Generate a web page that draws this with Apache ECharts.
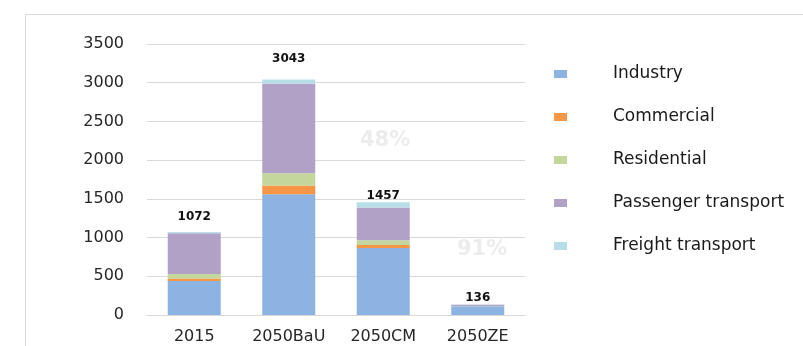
<!DOCTYPE html>
<html>
<head>
<meta charset="utf-8">
<script src="https://cdn.jsdelivr.net/npm/echarts@6/dist/echarts.min.js"></script>
<style>
  html, body { margin: 0; padding: 0; background: #fff; }
  #chart { width: 803px; height: 346px; }
</style>
</head>
<body>
<div id="chart"></div>
<script>
// data
var scenarios = ['2015', '2050BaU', '2050CM', '2050ZE'];
var industry = [440, 1560, 865, 112];
var commercial = [30, 112, 40, 2];
var residential = [60, 160, 62, 2];
var passenger = [525, 1155, 420, 15];
var freight = [17, 56, 70, 5];
var totals = [1072, 3043, 1457, 136];
var yTicks = [0, 500, 1000, 1500, 2000, 2500, 3000, 3500];

// how far each total sits above its bar
var labelLift = [9, 15, 0, 1];

var names = ['Industry', 'Commercial', 'Residential', 'Passenger transport', 'Freight transport'];
var colors = ['#8db3e2', '#f79646', '#c3d69b', '#b2a1c7', '#b7dee8'];
var values = [industry, commercial, residential, passenger, freight];

var series = names.map(function (name, i) {
    var s = {
        name: name,
        type: 'bar',
        stack: 'total',
        barWidth: 53,
        itemStyle: { color: colors[i] },
        emphasis: { disabled: true },
        data: values[i]
    };
    if (i === names.length - 1) {
        s.data = values[i].map(function (v, k) {
            return {
                value: v,
                label: {
                    show: true,
                    position: 'top',
                    distance: labelLift[k],
                    formatter: function () { return totals[k]; },
                    fontFamily: 'DejaVu Sans',
                    fontWeight: 'bold',
                    fontSize: 12,
                    color: '#111'
                }
            };
        });
    }
    return s;
});

var chart = echarts.init(document.getElementById('chart'), null, { renderer: 'canvas' });

chart.setOption({
    animation: false,
    backgroundColor: '#fff',
    graphic: [
        {
            type: 'rect',
            left: 23, top: 12,
            shape: { width: 800, height: 350 },
            style: { fill: 'none', stroke: '#d9d9d9', lineWidth: 1 },
            z: 0
        },
        {
            type: 'text',
            left: 360, top: 130,
            style: { text: '48%', font: 'bold 21px "DejaVu Sans"', fill: '#ececec' }
        },
        {
            type: 'text',
            left: 457, top: 239,
            style: { text: '91%', font: 'bold 21px "DejaVu Sans"', fill: '#ececec' }
        }
    ],
    grid: { left: 147, right: 278, top: 44, bottom: 31 },
    legend: {
        orient: 'vertical',
        left: 549,
        top: 59,
        itemWidth: 13,
        itemHeight: 8,
        itemGap: 23,
        icon: 'rect',
        data: names,
        selectedMode: false,
        textStyle: {
            fontFamily: 'DejaVu Sans',
            fontSize: 17,
            color: '#1a1a1a',
            lineHeight: 20,
            padding: [0, 0, 0, 41]
        }
    },
    xAxis: {
        type: 'category',
        data: scenarios,
        axisLine: { lineStyle: { color: '#d9d9d9' } },
        axisTick: { show: false },
        axisLabel: {
            interval: 0,
            fontFamily: 'DejaVu Sans',
            fontSize: 16,
            color: '#262626',
            margin: 14
        }
    },
    yAxis: {
        type: 'value',
        min: yTicks[0],
        max: yTicks[yTicks.length - 1],
        interval: 500,
        axisLine: { show: false },
        axisTick: { show: false },
        splitLine: { lineStyle: { color: '#d9d9d9' } },
        axisLabel: {
            fontFamily: 'DejaVu Sans',
            fontSize: 16,
            color: '#262626',
            margin: 23,
            formatter: function (v) { return String(v); }
        }
    },
    series: series
});
</script>
</body>
</html>
